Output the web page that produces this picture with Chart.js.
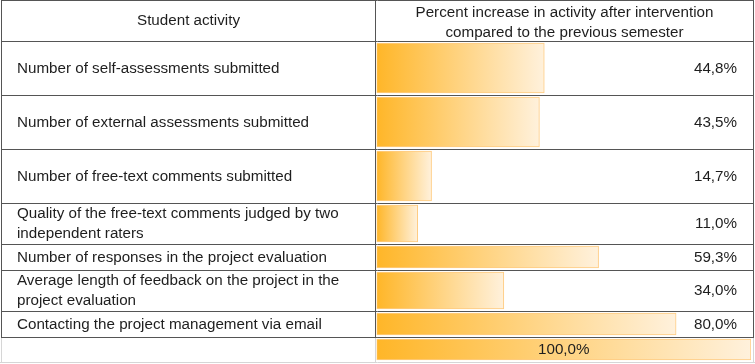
<!DOCTYPE html>
<html>
<head>
<meta charset="utf-8">
<script src="https://cdn.jsdelivr.net/npm/chart.js@4/dist/chart.umd.min.js"></script>
<style>
  html, body { margin: 0; padding: 0; background: #fff; }
  #wrap { position: relative; width: 755px; height: 364px; }
</style>
</head>
<body>
<div id="wrap"><canvas id="activityChart"></canvas></div>
<script>
// ── DATA ──
const activities = [
    ['Number of self-assessments submitted'],
    ['Number of external assessments submitted'],
    ['Number of free-text comments submitted'],
    ['Quality of the free-text comments judged by two', 'independent raters'],
    ['Number of responses in the project evaluation'],
    ['Average length of feedback on the project in the', 'project evaluation'],
    ['Contacting the project management via email'],
    []   // reference row (100 %)
];
const increase = [44.8, 43.5, 14.7, 11.0, 59.3, 34.0, 80.0, 100.0];
const headerLeft = ['Student activity'];
const headerRight = ['Percent increase in activity after intervention', 'compared to the previous semester'];

// ── LAYOUT (table geometry, px) ──
const HEADER_H = 41;
const rowHeights = [54, 54, 54, 41, 26, 41, 26, 25];
const COL_X = { left: 1.5, mid: 375.5, right: 753.5 };
const FONT = '15.2px "Liberation Sans", Arial, sans-serif';
const TEXT_COLOR = '#1e1e1e';
const LINE_COLOR = '#555';
const LIGHT_LINE = '#d6d6d6';

// row boundaries + centres (table coordinates)
const rowTops = [];
let acc = HEADER_H;
rowHeights.forEach(h => { rowTops.push(acc); acc += h; });
const rowCentres = rowTops.map((t, i) => t + rowHeights[i] / 2);

const fmtPct = v => v.toFixed(1).replace('.', ',') + '%';

function barGradient(context) {
    const chart = context.chart;
    const xs = chart.scales && chart.scales.x;
    if (!xs || !chart.chartArea) return '#FFB628';
    const v = context.raw ? context.raw.x : 0;
    const x0 = xs.getPixelForValue(0);
    const x1 = xs.getPixelForValue(v);
    const g = chart.ctx.createLinearGradient(x0, 0, x1, 0);
    g.addColorStop(0, '#FFB628');
    g.addColorStop(1, '#FFF1DC');
    return g;
}

// one dataset per row so each bar gets its row's thickness
const datasets = increase.map((v, i) => ({
    label: activities[i].join(' '),
    data: [{ x: v, y: rowCentres[i] }],
    stack: 'rows',
    barThickness: rowHeights[i] - 4,
    backgroundColor: barGradient,
    borderColor: '#FFCB80',
    borderWidth: 1,
    borderSkipped: false
}));

// ── TABLE PLUGIN (grid lines + texts) ──
const tablePlugin = {
    id: 'tablePlugin',
    beforeDraw(chart) {
        const { ctx, width, height } = chart;
        ctx.save();
        ctx.fillStyle = '#fff';
        ctx.fillRect(0, 0, width, height);
        ctx.restore();
    },
    beforeDatasetsDraw(chart) {
        const ctx = chart.ctx;
        const ys = chart.scales.y;
        const py = v => Math.round(ys.getPixelForValue(v)) + 0.5;
        const tableBottom = rowTops[rowTops.length - 1];
        const lastBottom = tableBottom + rowHeights[rowHeights.length - 1];
        ctx.save();
        ctx.lineWidth = 1;
        // light spreadsheet gridlines for the last row
        ctx.strokeStyle = LIGHT_LINE;
        ctx.beginPath();
        [COL_X.left, COL_X.mid, COL_X.right].forEach(x => {
            ctx.moveTo(x, py(tableBottom)); ctx.lineTo(x, py(lastBottom));
        });
        ctx.moveTo(0, py(lastBottom)); ctx.lineTo(chart.width, py(lastBottom));
        ctx.stroke();
        // table borders
        ctx.strokeStyle = LINE_COLOR;
        ctx.beginPath();
        const hLines = [0, HEADER_H, ...rowTops.slice(1), tableBottom];
        hLines.forEach(y => {
            const yy = py(y);
            ctx.moveTo(COL_X.left - 0.5, yy); ctx.lineTo(COL_X.right + 0.5, yy);
        });
        [COL_X.left, COL_X.mid, COL_X.right].forEach(x => {
            ctx.moveTo(x, py(0)); ctx.lineTo(x, py(tableBottom));
        });
        ctx.stroke();
        ctx.restore();
    },
    afterDatasetsDraw(chart) {
        const ctx = chart.ctx;
        const ys = chart.scales.y;
        const xs = chart.scales.x;
        ctx.save();
        ctx.font = FONT;
        ctx.fillStyle = TEXT_COLOR;
        ctx.textBaseline = 'middle';

        const drawLines = (lines, x, yc, align, lineH = 19.5) => {
            ctx.textAlign = align;
            const start = yc - (lines.length - 1) * lineH / 2;
            lines.forEach((t, k) => ctx.fillText(t, x, start + k * lineH));
        };

        // header
        drawLines(headerLeft, (COL_X.left + COL_X.mid) / 2, ys.getPixelForValue(HEADER_H / 2) + 0.5, 'center');
        drawLines(headerRight, (COL_X.mid + COL_X.right) / 2, ys.getPixelForValue(HEADER_H / 2) + 2, 'center', 20);

        // rows
        activities.forEach((lines, i) => {
            const yc = ys.getPixelForValue(rowCentres[i]) + 0.5;
            drawLines(lines, 17, yc, 'left');
            if (lines.length) {
                drawLines([fmtPct(increase[i])], 737, yc, 'right');
            } else {
                // reference row: value centred on the bar
                drawLines([fmtPct(increase[i])], (xs.getPixelForValue(0) + xs.getPixelForValue(increase[i])) / 2, yc, 'center');
            }
        });
        ctx.restore();
    }
};

new Chart(document.getElementById('activityChart'), {
    type: 'bar',
    data: { datasets },
    options: {
        indexAxis: 'y',
        responsive: true,
        maintainAspectRatio: false,
        animation: false,
        layout: { padding: { left: 376.5, right: 4, top: 0, bottom: 0 } },
        scales: {
            x: { type: 'linear', min: 0, max: 100, stacked: false, display: false },
            y: { type: 'linear', min: 0, max: 364, reverse: true, offset: false,
                 grid: { offset: false }, display: false }
        },
        plugins: {
            legend: { display: false },
            tooltip: { enabled: false }
        }
    },
    plugins: [tablePlugin]
});
</script>
</body>
</html>
